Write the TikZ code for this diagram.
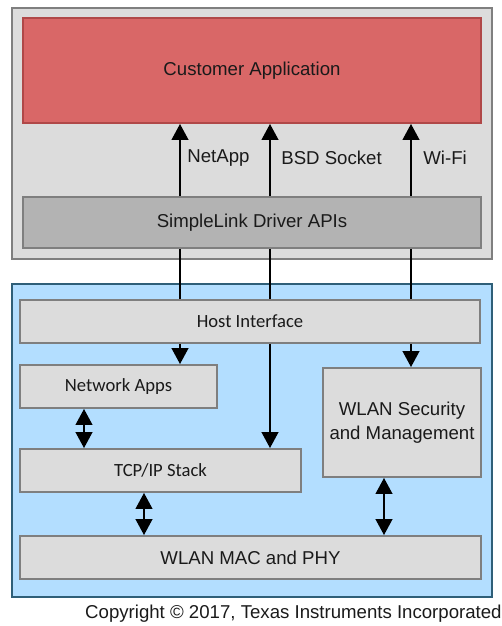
\documentclass[tikz,border=0pt]{standalone}
\usepackage{fontspec}
\setmainfont{Liberation Sans}
\newfontfamily\calibrifont{Carlito}
\usetikzlibrary{positioning,arrows.meta}

\definecolor{hostgray}{HTML}{DCDCDC}
\definecolor{hostedge}{HTML}{7F7F7F}
\definecolor{appred}{HTML}{D96767}
\definecolor{appedge}{HTML}{B04848}
\definecolor{drvgray}{HTML}{B3B3B3}
\definecolor{chipblue}{HTML}{B3DEFF}
\definecolor{chipedge}{HTML}{2F5F78}
\definecolor{txtblack}{HTML}{1A1A1A}

\tikzset{
    block/.style={draw=hostedge, line width=1.1pt, fill=hostgray, inner sep=0pt,
        text=txtblack, align=center, font=\fontsize{10.6pt}{13.6pt}\selectfont},
    calblock/.style={block, font=\fontsize{10.6pt}{12.8pt}\selectfont\calibrifont},
    lbl/.style={inner sep=0pt, anchor=west, text=txtblack,
        font=\fontsize{10.6pt}{12.8pt}\selectfont},
    link/.style={line width=0.85pt, -{Triangle[width=9.5pt,length=9pt]}},
    dlink/.style={line width=0.85pt, {Triangle[width=9.5pt,length=9pt]}-{Triangle[width=9.5pt,length=9pt]}}
}

\begin{document}
\begin{tikzpicture}[x=0.02cm, y=-0.02cm]
    \useasboundingbox (0, 0) rectangle (501, 626);
    % Host side
    \draw[draw=hostedge, line width=1.1pt, fill=hostgray] (12, 8) rectangle (492, 259);
    \node[block, draw=appedge, fill=appred, minimum width=458*0.02cm, minimum height=105*0.02cm]
        (app) at (252, 70.5) {Customer Application};
    \node[block, fill=drvgray, minimum width=458*0.02cm, minimum height=51*0.02cm]
        (driver) at (252, 222.5) {SimpleLink Driver APIs};
    % Device side
    \draw[draw=chipedge, line width=1.1pt, fill=chipblue] (12, 284) rectangle (492, 597);
    \node[calblock, minimum width=460*0.02cm, minimum height=43*0.02cm]
        (host) at (250, 321.5) {Host Interface};
    \node[calblock, minimum width=197*0.02cm, minimum height=43*0.02cm]
        (netapps) at (118.5, 386.5) {Network Apps};
    \node[calblock, minimum width=281*0.02cm, minimum height=43*0.02cm]
        (tcpip) at (160.5, 470.5) {TCP/IP Stack};
    \node[block, minimum width=158*0.02cm, minimum height=109*0.02cm]
        (wlansec) at (402, 422.5) {WLAN Security\\and Management};
    \node[block, minimum width=461*0.02cm, minimum height=43*0.02cm]
        (mac) at (250.5, 557.5) {WLAN MAC and PHY};
    % Channels
    \coordinate (netch) at (180, 0);
    \coordinate (bsdch) at (270, 0);
    \coordinate (wifich) at (411, 0);
    \coordinate (appch) at (84, 0);
    \coordinate (tcpch) at (144, 0);
    \coordinate (secch) at (384, 0);
    % Labels
    \node[lbl] (netlbl) at (187, 158) {NetApp};
    \node[lbl] (bsdlbl) at (281, 158) {BSD Socket};
    \node[lbl] (wifilbl) at (423, 158) {Wi-Fi};
    \node[inner sep=0pt, anchor=east, text=txtblack, font=\fontsize{10.6pt}{12.8pt}\selectfont]
        (copy) at (502, 614) {Copyright \textcopyright{} 2017, Texas Instruments Incorporated};
    % Driver to application
    \draw[link] (netch |- driver.north) -- (netch |- app.south);
    \draw[link] (bsdch |- driver.north) -- (bsdch |- app.south);
    \draw[link] (wifich |- driver.north) -- (wifich |- app.south);
    % Driver to host interface
    \draw[line width=0.85pt] (netch |- driver.south) -- (netch |- host.north);
    \draw[line width=0.85pt] (bsdch |- driver.south) -- (bsdch |- host.north);
    \draw[line width=0.85pt] (wifich |- driver.south) -- (wifich |- host.north);
    % Host interface to blocks
    \draw[link] (netch |- host.south) -- (netch |- netapps.north);
    \draw[link] (bsdch |- host.south) -- (bsdch |- tcpip.north);
    \draw[link] (wifich |- host.south) -- (wifich |- wlansec.north);
    % Between blocks
    \draw[dlink] (appch |- netapps.south) -- (appch |- tcpip.north);
    \draw[dlink] (tcpch |- tcpip.south) -- (tcpch |- mac.north);
    \draw[dlink] (secch |- wlansec.south) -- (secch |- mac.north);
\end{tikzpicture}
\end{document}
